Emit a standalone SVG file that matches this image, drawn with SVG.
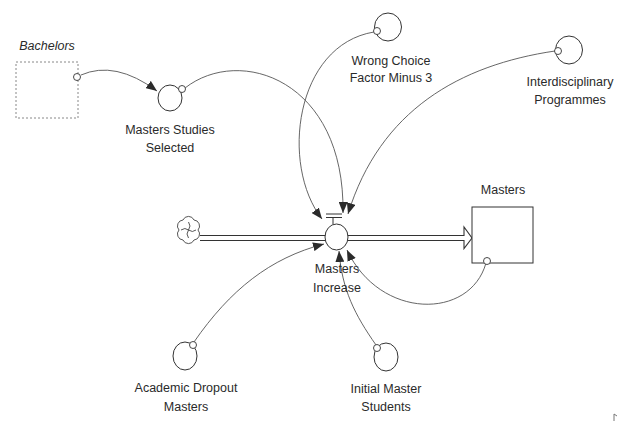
<svg xmlns="http://www.w3.org/2000/svg" width="619" height="426" viewBox="0 0 619 426">
  <style>
    .lbl { font-family: "Liberation Sans", Arial, sans-serif; font-size: 12.5px; fill: #2a2a2a; text-anchor: middle; }
    .aux { fill: #fff; stroke: #333; stroke-width: 1; }
    .tap { fill: #fff; stroke: #333; stroke-width: 0.9; }
    .link { fill: none; stroke: #555; stroke-width: 0.9; marker-end: url(#head); }
    .pipe { fill: #fff; stroke: #333; stroke-width: 1.1; stroke-linejoin: miter; }
  </style>
  <defs>
    <marker id="head" viewBox="0 0 11 9" refX="11" refY="4.5" markerWidth="11" markerHeight="9" markerUnits="userSpaceOnUse" orient="auto">
      <path d="M0,0 L11,4.5 L0,9 Z" fill="#2b2b2b"/>
    </marker>
  </defs>
  <rect width="619" height="426" fill="#fff"/>

  <!-- information links -->
  <g id="connectors">
    <path class="link" d="M81,75 Q115,60 157,91"/>
    <path class="link" d="M185,88 C240,45 345,80 343,213"/>
    <path class="link" d="M374,32 C295,45 280,165 322,219"/>
    <path class="link" d="M555,51 C460,65 380,110 348,214"/>
    <path class="link" d="M194,342 C230,290 270,258 324,244"/>
    <path class="link" d="M376,345 C355,315 342,290 339,251"/>
    <path class="link" d="M486,263 C470,320 380,320 347,250"/>
  </g>

  <!-- material flow pipe from source cloud into the stock -->
  <g id="flow-pipe">
    <path class="pipe" d="M200,235.5 H464 V227 L472,238 L464,248.5 V240.5 H200"/>
  </g>

  <g id="source-cloud" fill="none" stroke="#444" stroke-width="0.9">
    <path d="M183,220 a6,6 0 0 1 11,0 a6,6 0 0 1 4,10 a6,6 0 0 1 -4,10 a6,6 0 0 1 -11,0 a6,6 0 0 1 -4,-10 a6,6 0 0 1 4,-10 z" fill="#fff"/>
    <path d="M188.5,222 q3,4 0,8 q-3,4 0,8 M181,230 q4,-3 7.5,0 q4,3 7.5,0"/>
  </g>

  <g id="bachelors">
    <rect x="16" y="62" width="62" height="56" fill="none" stroke="#888" stroke-width="1" stroke-dasharray="2,2"/>
    <text class="lbl" x="47" y="50" font-style="italic">Bachelors</text>
    <circle class="tap" cx="77" cy="77" r="3.5"/>
  </g>

  <g id="masters-studies-selected">
    <ellipse class="aux" cx="170" cy="98" rx="12" ry="13"/>
    <circle class="tap" cx="182" cy="89" r="3.5"/>
    <text class="lbl" x="170" y="134">Masters Studies</text>
    <text class="lbl" x="170" y="152">Selected</text>
  </g>

  <g id="wrong-choice-factor">
    <ellipse class="aux" cx="388" cy="27" rx="13.5" ry="14"/>
    <circle class="tap" cx="377" cy="31" r="3.5"/>
    <text class="lbl" x="391" y="65">Wrong Choice</text>
    <text class="lbl" x="391" y="82">Factor Minus 3</text>
  </g>

  <g id="interdisciplinary-programmes">
    <ellipse class="aux" cx="569" cy="50" rx="13.5" ry="14"/>
    <circle class="tap" cx="558" cy="51" r="3.5"/>
    <text class="lbl" x="570" y="86">Interdisciplinary</text>
    <text class="lbl" x="570" y="104">Programmes</text>
  </g>

  <g id="masters-stock">
    <rect x="472" y="207" width="61" height="56" fill="#fff" stroke="#333" stroke-width="1"/>
    <text class="lbl" x="503" y="194">Masters</text>
    <circle class="tap" cx="487" cy="261" r="3.5"/>
  </g>

  <g id="masters-increase">
    <path d="M326,214 H342 M326,217.5 H342 M333,217.5 V224" fill="none" stroke="#333" stroke-width="1"/>
    <ellipse class="aux" cx="336.5" cy="237" rx="11.5" ry="13"/>
    <text class="lbl" x="337" y="273">Masters</text>
    <text class="lbl" x="337" y="292">Increase</text>
  </g>

  <g id="academic-dropout-masters">
    <ellipse class="aux" cx="185" cy="356" rx="12" ry="14"/>
    <circle class="tap" cx="193" cy="345" r="3.5"/>
    <text class="lbl" x="186" y="392">Academic Dropout</text>
    <text class="lbl" x="186" y="411">Masters</text>
  </g>

  <g id="initial-master-students">
    <ellipse class="aux" cx="386" cy="357" rx="12" ry="14"/>
    <circle class="tap" cx="377" cy="348" r="3.5"/>
    <text class="lbl" x="386" y="393">Initial Master</text>
    <text class="lbl" x="386" y="411">Students</text>
  </g>

  <!-- small clipped mark in the lower right corner -->
  <path d="M614,414 V421 M614,414 L617,416" fill="none" stroke="#777" stroke-width="1"/>
</svg>
